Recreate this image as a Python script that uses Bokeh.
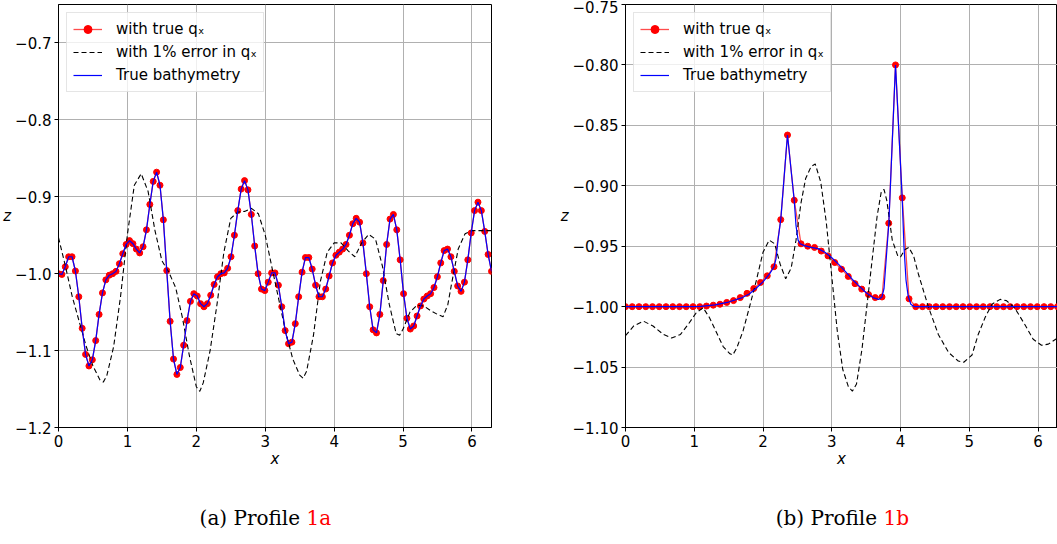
import numpy as np
from bokeh.plotting import figure
from bokeh.layouts import row, column
from bokeh.models import Range1d, FixedTicker, CustomJSTickFormatter
from bokeh.core.properties import value
from bokeh.embed import file_html
from bokeh.resources import INLINE

TWO_PI = 2 * np.pi

# ---------------- Profile 1a ----------------
# reconstructed bathymetry with true q_x (129 equally spaced samples on [0, 2pi])
z_true_a = [
    -1.000, -1.001, -0.991, -0.978, -0.978, -0.9965, -1.030, -1.071, -1.105, -1.120,
    -1.112, -1.087, -1.053, -1.025, -1.008, -1.002, -1.000, -0.997, -0.987, -0.974,
    -0.962, -0.957, -0.961, -0.968, -0.973, -0.965, -0.943, -0.910, -0.880, -0.868,
    -0.885, -0.930, -0.996, -1.062, -1.111, -1.131, -1.122, -1.093, -1.061, -1.036,
    -1.026, -1.029, -1.039, -1.043, -1.039, -1.028, -1.014, -1.004, -1.000, -0.999,
    -0.993, -0.978, -0.950, -0.918, -0.890, -0.879, -0.891, -0.923, -0.964, -1.000,
    -1.020, -1.022, -1.011, -0.999, -0.999, -1.015, -1.043, -1.074, -1.091, -1.089,
    -1.065, -1.030, -0.998, -0.979, -0.979, -0.994, -1.015, -1.030, -1.030, -1.020,
    -1.003, -0.986, -0.976, -0.972, -0.968, -0.962, -0.950, -0.935, -0.928, -0.933,
    -0.960, -1.000, -1.043, -1.073, -1.077, -1.053, -1.009, -0.962, -0.929, -0.923,
    -0.943, -0.982, -1.026, -1.058, -1.072, -1.068, -1.055, -1.042, -1.033, -1.029,
    -1.026, -1.018, -1.004, -0.986, -0.970, -0.968, -0.978, -0.997, -1.016, -1.023,
    -1.011, -0.982, -0.947, -0.918, -0.907, -0.918, -0.945, -0.975, -0.997,
]
x_true_a = np.linspace(0, TWO_PI, len(z_true_a))

# reconstruction with 1% error in q_x
x_err_a = [0.0, 0.1, 0.2, 0.3, 0.4, 0.5, 0.6, 0.65, 0.7, 0.8, 0.9, 1.0, 1.1, 1.2, 1.3,
           1.4, 1.5, 1.6, 1.7, 1.8, 1.9, 2.0, 2.05, 2.1, 2.2, 2.3, 2.4, 2.5, 2.6, 2.7,
           2.8, 2.9, 3.0, 3.1, 3.2, 3.3, 3.4, 3.5, 3.55, 3.6, 3.7, 3.8, 3.9, 4.0, 4.1,
           4.2, 4.3, 4.4, 4.5, 4.6, 4.7, 4.8, 4.9, 4.95, 5.0, 5.1, 5.2, 5.3, 5.4, 5.5,
           5.58, 5.65, 5.7, 5.8, 5.9, 6.0, 6.1, 6.2, 6.2832]
z_err_a = [-0.953, -0.990, -1.030, -1.062, -1.094, -1.120, -1.138, -1.141, -1.133, -1.095,
           -1.030, -0.949, -0.885, -0.870, -0.893, -0.944, -0.983, -0.998, -1.018, -1.058,
           -1.107, -1.147, -1.153, -1.142, -1.100, -1.040, -0.972, -0.928, -0.920, -0.919,
           -0.915, -0.922, -0.950, -0.993, -1.035, -1.077, -1.111, -1.132, -1.136, -1.127,
           -1.080, -1.010, -0.972, -0.960, -0.960, -0.970, -0.978, -0.960, -0.949, -0.955,
           -0.990, -1.040, -1.078, -1.080, -1.072, -1.050, -1.041, -1.042, -1.048, -1.053,
           -1.056, -1.040, -1.015, -0.968, -0.948, -0.944, -0.944, -0.944, -0.944]

# ---------------- Profile 1b ----------------
z_true_b = [
    -1.0, -1.0, -1.0, -1.0, -1.0, -1.0, -1.0, -1.0, -1.0, -1.0, -1.0, -1.0,
    -0.9995, -0.9988, -0.998, -0.9965, -0.995, -0.9925, -0.989, -0.985, -0.980,
    -0.9745, -0.967, -0.928, -0.858, -0.912, -0.948, -0.950, -0.951, -0.954,
    -0.958, -0.9635, -0.969, -0.975, -0.981, -0.9855, -0.990, -0.9925, -0.992,
    -0.931, -0.800, -0.910, -0.9935,
    -1.0, -1.0, -1.0, -1.0, -1.0, -1.0, -1.0, -1.0, -1.0, -1.0, -1.0, -1.0,
    -1.0, -1.0, -1.0, -1.0, -1.0, -1.0, -1.0, -1.0, -1.0, -1.0,
]
x_true_b = np.linspace(0, TWO_PI, len(z_true_b))

x_err_b = [0.0, 0.12, 0.26, 0.4, 0.55, 0.67, 0.8, 0.92, 1.03, 1.13, 1.22, 1.32, 1.42,
           1.52, 1.56, 1.62, 1.71, 1.80, 1.90, 2.0, 2.09, 2.17, 2.25, 2.33, 2.41, 2.48,
           2.55, 2.62, 2.70, 2.76, 2.84, 2.92, 3.0, 3.08, 3.16, 3.24, 3.30, 3.36, 3.44,
           3.52, 3.60, 3.66, 3.72, 3.76, 3.80, 3.88, 3.96, 4.0, 4.06, 4.12, 4.19, 4.26,
           4.34, 4.41, 4.55, 4.70, 4.84, 4.92, 5.04, 5.13, 5.23, 5.33, 5.45, 5.54, 5.66,
           5.81, 5.93, 6.05, 6.15, 6.2832]
z_err_b = [-1.024, -1.016, -1.012, -1.016, -1.023, -1.026, -1.023, -1.014, -1.005, -1.001,
           -1.009, -1.021, -1.033, -1.039, -1.040, -1.034, -1.020, -1.001, -0.979, -0.955,
           -0.945, -0.948, -0.965, -0.977, -0.968, -0.945, -0.915, -0.894, -0.884, -0.882,
           -0.897, -0.930, -0.975, -1.020, -1.052, -1.066, -1.070, -1.064, -1.035, -0.995,
           -0.955, -0.925, -0.905, -0.903, -0.912, -0.945, -0.958, -0.959, -0.953, -0.951,
           -0.958, -0.973, -0.988, -1.001, -1.023, -1.038, -1.045, -1.046, -1.040, -1.023,
           -1.009, -0.998, -0.994, -0.995, -1.001, -1.015, -1.027, -1.032, -1.031, -1.026]

# true bathymetry 1b (finer sampling)
x_bathy_b = [0.0, 0.9, 1.1, 1.3, 1.5, 1.7, 1.8, 1.9, 2.0, 2.1, 2.16, 2.19, 2.22, 2.258,
             2.30, 2.33, 2.356, 2.38, 2.41, 2.454, 2.48, 2.51, 2.54, 2.60, 2.70, 2.80,
             2.90, 3.00, 3.10, 3.20, 3.30, 3.40, 3.50, 3.60, 3.68, 3.73, 3.76, 3.79,
             3.83, 3.87, 3.91, 3.927, 3.945, 3.97, 4.024, 4.05, 4.08, 4.11, 4.15, 4.20,
             6.2832]
z_bathy_b = [-1.0, -1.0, -0.9998, -0.9985, -0.9962, -0.9925, -0.9895, -0.9848, -0.9795,
             -0.9725, -0.967, -0.960, -0.944, -0.928, -0.898, -0.876, -0.858, -0.871,
             -0.888, -0.912, -0.933, -0.945, -0.948, -0.9495, -0.951, -0.952, -0.955,
             -0.9595, -0.965, -0.971, -0.9775, -0.983, -0.9885, -0.9925, -0.994, -0.992,
             -0.985, -0.962, -0.931, -0.877, -0.823, -0.800, -0.820, -0.849, -0.910,
             -0.950, -0.978, -0.991, -0.998, -1.0, -1.0]

x_ticks = [0, 1, 2, 3, 4, 5, 6]
y_ticks_a = [-1.2, -1.1, -1.0, -0.9, -0.8, -0.7]
y_ticks_b = [-1.10, -1.05, -1.00, -0.95, -0.90, -0.85, -0.80, -0.75]

labels = ["with true q\u2093", "with 1% error in q\u2093", "True bathymetry"]
captions = [("(a) Profile", "1a"), ("(b) Profile", "1b")]

FONT = "DejaVu Sans"
FIG_H = 480
CAP_H = 64
W1, W2 = 557, 500


def make_fig(width, right_b, yr, yticks, digits, xt, zt, xe, ze, xb, zb):
    p = figure(width=width, height=FIG_H, x_range=Range1d(0, TWO_PI),
               y_range=Range1d(*yr), output_backend="svg", toolbar_location=None,
               min_border_left=40, min_border_right=right_b,
               min_border_top=4, min_border_bottom=53)
    p.background_fill_color = "white"
    p.border_fill_color = "white"
    p.outline_line_color = "black"
    p.outline_line_width = 1
    p.outline_line_alpha = 1

    p.xaxis.ticker = FixedTicker(ticks=x_ticks)
    p.yaxis.ticker = FixedTicker(ticks=yticks)
    p.xaxis.formatter = CustomJSTickFormatter(code="return tick.toFixed(0);")
    p.yaxis.formatter = CustomJSTickFormatter(
        code="return tick.toFixed(%d).replace('-', '\u2212');" % digits)
    for ax in (p.xaxis, p.yaxis):
        ax.major_label_text_font = FONT
        ax.major_label_text_font_size = "15px"
        ax.major_label_text_color = "black"
        ax.axis_line_color = "black"
        ax.major_tick_line_color = "black"
        ax.major_tick_out = 4
        ax.major_tick_in = 0
        ax.minor_tick_line_color = None
        ax.major_label_standoff = 3
        ax.axis_label_text_font = FONT
        ax.axis_label_text_font_size = "15px"
        ax.axis_label_text_font_style = "italic"
        ax.axis_label_text_color = "black"
    p.xaxis.axis_label = "x"
    p.xaxis.axis_label_standoff = 0
    p.yaxis.axis_label = "z"
    p.yaxis.axis_label_standoff = 1
    p.yaxis.axis_label_orientation = "horizontal"

    p.grid.grid_line_color = "#b0b0b0"
    p.grid.grid_line_width = 1

    p.line(xt, zt, color="red", line_width=1.3, line_alpha=0.7, legend_label=labels[0])
    p.scatter(xt, zt, size=6, color="red", line_color="red", legend_label=labels[0])
    p.line(xe, ze, color="black", line_width=1.1, line_dash="5 3", legend_label=labels[1])
    p.line(xb, zb, color="blue", line_width=1.2, legend_label=labels[2])

    lg = p.legend[0]
    lg.location = "top_left"
    lg.margin = 8
    lg.padding = 6
    lg.spacing = 3
    lg.label_standoff = 14
    lg.glyph_width = 29
    lg.glyph_height = 20
    lg.label_height = 20
    lg.label_text_font = FONT
    lg.label_text_font_size = "15px"
    lg.label_text_color = "black"
    lg.border_line_color = "#cccccc"
    lg.border_line_width = 1
    lg.background_fill_alpha = 0.8
    return p


def make_caption(width, split_x, parts):
    c = figure(width=width, height=CAP_H, x_range=Range1d(0, width),
               y_range=Range1d(0, CAP_H), output_backend="svg", toolbar_location=None,
               min_border=0)
    c.axis.visible = False
    c.grid.visible = False
    c.outline_line_color = None
    c.text(x=[split_x - 6.4], y=[CAP_H - 37], text=[parts[0]], text_align="right",
           text_baseline="middle", text_font=value("DejaVu Serif"),
           text_font_size="20px", text_color="black")
    c.text(x=[split_x], y=[CAP_H - 37], text=[parts[1]], text_align="left",
           text_baseline="middle", text_font=value("DejaVu Serif"),
           text_font_size="20px", text_color="red")
    return c


p1 = make_fig(W1, 66, (-1.2, -0.65), y_ticks_a, 1,
              x_true_a, z_true_a, x_err_a, z_err_a, x_true_a, z_true_a)
p2 = make_fig(W2, 0, (-1.10, -0.75), y_ticks_b, 2,
              x_true_b, z_true_b, x_err_b, z_err_b, x_bathy_b, z_bathy_b)
c1 = make_caption(W1, 306, captions[0])
c2 = make_caption(W2, 326, captions[1])

layout = column(row(p1, p2), row(c1, c2))
open("out.html", "w").write(file_html(layout, INLINE))
